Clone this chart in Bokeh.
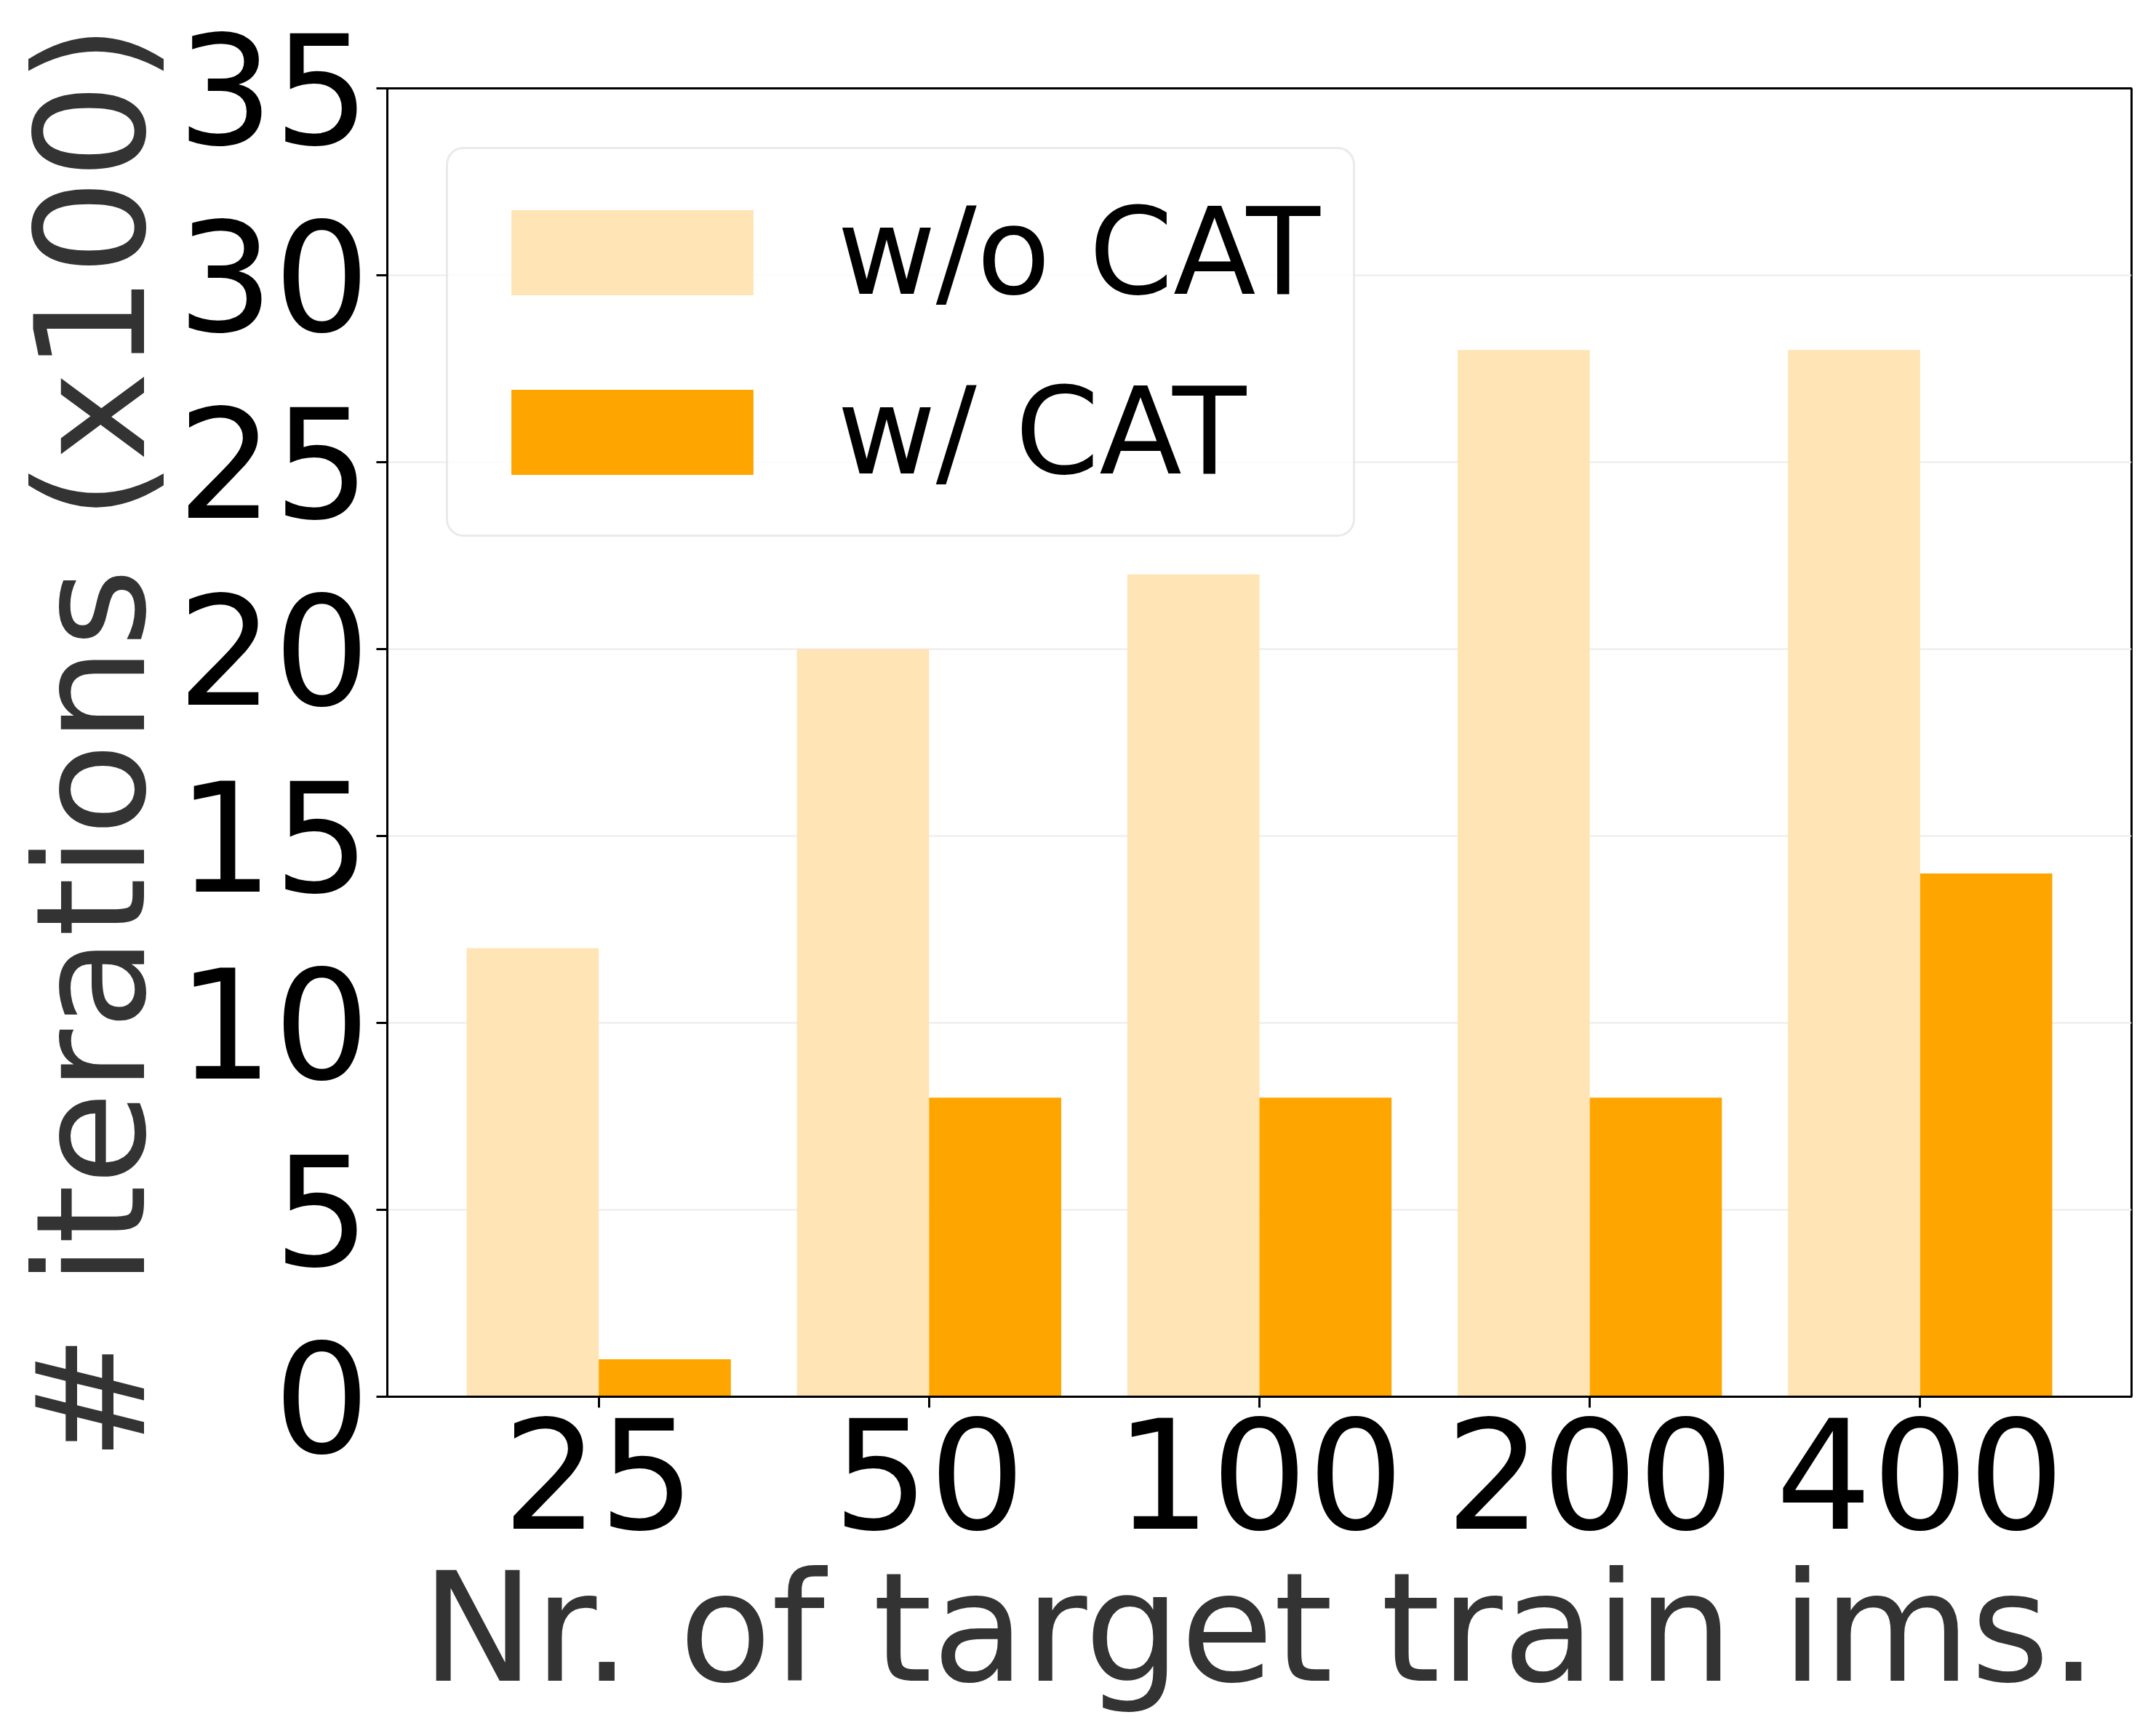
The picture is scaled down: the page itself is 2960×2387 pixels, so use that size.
from bokeh.plotting import figure
from bokeh.models import Range1d, FactorRange, ColumnDataSource, Legend, LegendItem, FixedTicker
from bokeh.transform import dodge
from bokeh.embed import file_html
from bokeh.resources import INLINE

categories = ["25", "50", "100", "200", "400"]
wo_cat = [12, 20, 22, 28, 28]
w_cat = [1, 8, 8, 8, 14]
y_ticks = [0, 5, 10, 15, 20, 25, 30, 35]
series_labels = ["w/o CAT", "w/ CAT"]

FONT = "DejaVu Sans"
LIGHT = "#FFE4B5"
DARK = "#FFA500"

src = ColumnDataSource(dict(cat=categories, wo=wo_cat, w=w_cat))

p = figure(width=2950, height=2380, output_backend="svg", toolbar_location=None,
           x_range=FactorRange(*categories, range_padding=0.14, range_padding_units="absolute"),
           y_range=Range1d(0, 35),
           min_border_left=532, min_border_right=20, min_border_top=121, min_border_bottom=460)

r1 = p.vbar(x=dodge("cat", -0.2, range=p.x_range), top="wo", width=0.4, source=src,
            fill_color=LIGHT, line_color=None)
r2 = p.vbar(x=dodge("cat", 0.2, range=p.x_range), top="w", width=0.4, source=src,
            fill_color=DARK, line_color=None)

p.background_fill_color = "white"
p.border_fill_color = "white"
p.outline_line_color = "black"
p.outline_line_width = 3

p.xgrid.grid_line_color = None
p.ygrid.grid_line_color = "#ebebeb"
p.ygrid.grid_line_width = 2
p.yaxis.ticker = FixedTicker(ticks=y_ticks)

for ax in (p.xaxis[0], p.yaxis[0]):
    ax.axis_line_color = "black"
    ax.axis_line_width = 3
    ax.major_tick_line_color = "black"
    ax.major_tick_line_width = 3
    ax.major_tick_out = 15
    ax.major_tick_in = 0
    ax.minor_tick_line_color = None
    ax.major_label_text_font = FONT
    ax.major_label_text_font_size = "208px"
    ax.major_label_text_color = "black"
    ax.axis_label_text_font = FONT
    ax.axis_label_text_font_size = "208px"
    ax.axis_label_text_font_style = "normal"
    ax.axis_label_text_color = "#333333"

p.xaxis.axis_label = "Nr. of target train ims."
p.yaxis.axis_label = "# iterations (x100)"
p.yaxis.major_label_standoff = 9
p.xaxis.major_label_standoff = 13
p.yaxis.axis_label_standoff = -6
p.xaxis.axis_label_standoff = 13

legend = Legend(items=[LegendItem(label=series_labels[0], renderers=[r1]),
                       LegendItem(label=series_labels[1], renderers=[r2])],
                location="top_left", margin=81, padding=45, spacing=54,
                glyph_width=416, glyph_height=146, label_standoff=74,
                label_text_font=FONT, label_text_font_size="166px", label_text_color="black",
                border_line_color="#d6d6d6", border_line_width=3,
                background_fill_color="white", background_fill_alpha=0.8)
if "border_radius" in Legend.properties():
    legend.border_radius = 24
p.add_layout(legend)

open("out.html", "w").write(file_html(p, INLINE))
